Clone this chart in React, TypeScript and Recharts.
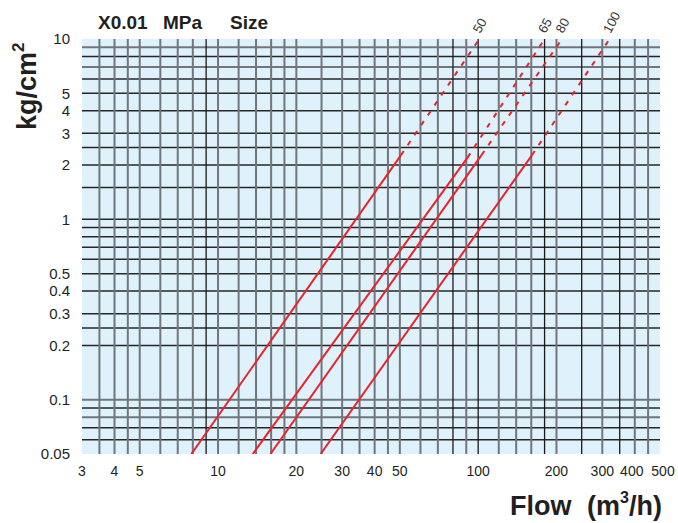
import { LineChart, Line, XAxis, YAxis, ReferenceLine, ReferenceArea, Customized } from 'recharts'

// valve sizes and where each curve crosses the chart
const SIZES = ['50', '65', '80', '100']
const FLOW_AT_MIN = [7.9, 13.6, 15.9, 24.8]
const FLOW_AT_BREAK = [50.5, 91, 103, 161]
const PRESSURE_AT_BREAK = [2.27, 2.2, 2.27, 2.27]
const FLOW_AT_MAX = [101, 180, 210, 320]
const P_MIN = 0.05
const P_MAX = 10

const X_TICKS = [3, 4, 5, 10, 20, 30, 40, 50, 100, 200, 300, 400, 500]
const Y_TICKS = [0.05, 0.1, 0.2, 0.3, 0.4, 0.5, 1, 2, 3, 4, 5, 10]

const X_GRID = [3.5, 4, 4.5, 5, 6, 7, 8, 10, 12, 14, 16, 18, 20, 25, 30, 35, 40, 45, 50, 60, 70, 90, 120, 140, 160, 200, 300, 400, 450]
const X_GRID_DARK = [9, 80, 100, 180, 250, 350]
const Y_GRID = [0.06, 0.07, 0.09, 0.2, 0.25, 0.3, 0.4, 0.5, 0.6, 0.7, 0.8, 0.9, 1, 1.5, 2, 2.5, 3, 4, 5, 6, 8]
const Y_GRID_GREY = [0.08, 0.1, 7, 9]

const FONT = '"Liberation Sans", Arial, Helvetica, sans-serif'
const RED = '#e8242b'

function XTick(props: any) {
  const { x, y, payload, index } = props
  // nudge the outer labels apart a little, as in the printed chart
  const last = index === X_TICKS.length - 1
  const beforeLast = index === X_TICKS.length - 2
  const dx = last ? 3 : beforeLast ? -3 : 0
  return (
    <text
      x={x + dx}
      y={y}
      dy="0.71em"
      textAnchor="middle"
      fontSize={14}
      fontFamily={FONT}
      fill="#231f20"
    >
      {payload.value}
    </text>
  )
}

function sizeLabel(size: string) {
  return (props: any) => {
    if (props.index !== 1) return null
    const x = props.x + 1
    const y = props.y - 5
    return (
      <text
        x={x}
        y={y}
        transform={`rotate(-62 ${x} ${y})`}
        fontSize={13}
        fontFamily={FONT}
        fill="#333"
      >
        {size}
      </text>
    )
  }
}

function Titles() {
  return (
    <g fontFamily={FONT} fill="#231f20" fontWeight="bold">
      <text x={98} y={29} fontSize={19}>X0.01</text>
      <text x={163} y={29} fontSize={19}>MPa</text>
      <text x={230} y={29} fontSize={19}>Size</text>
      <text x={36} y={130} fontSize={27} transform="rotate(-90 36 130)">
        kg/cm<tspan dy={-12} fontSize={17}>2</tspan>
      </text>
      <text x={510} y={515} fontSize={27}>
        Flow
        <tspan x={587}>(m</tspan>
        <tspan dy={-12} fontSize={16}>3</tspan>
        <tspan dy={12}>/h)</tspan>
      </text>
    </g>
  )
}

export default function App() {
  return (
    <div style={{ position: 'absolute', left: 0, top: 0 }}>
      <LineChart
        width={678}
        height={523}
        margin={{ top: 39, right: 18, bottom: 39, left: 0 }}
      >
        <XAxis
          dataKey="flow"
          type="number"
          scale="log"
          domain={[3, 500]}
          ticks={X_TICKS}
          interval={0}
          allowDataOverflow
          axisLine={false}
          tickLine={false}
          tickSize={0}
          tickMargin={12}
          height={30}
          tick={<XTick />}
        />
        <YAxis
          dataKey="p"
          type="number"
          scale="log"
          domain={[P_MIN, P_MAX]}
          ticks={Y_TICKS}
          interval={0}
          allowDataOverflow
          axisLine={false}
          tickLine={false}
          tickSize={0}
          tickMargin={12}
          width={82}
          tick={{ fontSize: 15, fill: '#231f20', fontFamily: FONT }}
        />
        <ReferenceArea x1={3} x2={500} y1={P_MIN} y2={P_MAX} fill="#dff1fb" fillOpacity={1} stroke="none" />
        {Y_GRID.map((v) => (
          <ReferenceLine key={`y${v}`} y={v} stroke="#262626" strokeWidth={1.5} />
        ))}
        {Y_GRID_GREY.map((v) => (
          <ReferenceLine key={`yg${v}`} y={v} stroke="#6f767d" strokeWidth={2} />
        ))}
        {X_GRID.map((v) => (
          <ReferenceLine key={`x${v}`} x={v} stroke="#6f767d" strokeWidth={2} />
        ))}
        {X_GRID_DARK.map((v) => (
          <ReferenceLine key={`xd${v}`} x={v} stroke="#1a1a1a" strokeWidth={1.3} />
        ))}
        {SIZES.map((size, i) => (
          <Line
            key={`s${size}`}
            data={[
              { flow: FLOW_AT_MIN[i], p: P_MIN },
              { flow: FLOW_AT_BREAK[i], p: PRESSURE_AT_BREAK[i] },
            ]}
            dataKey="p"
            stroke={RED}
            strokeWidth={2}
            dot={false}
            isAnimationActive={false}
          />
        ))}
        {SIZES.map((size, i) => (
          <Line
            key={`d${size}`}
            data={[
              { flow: FLOW_AT_BREAK[i], p: PRESSURE_AT_BREAK[i] },
              { flow: FLOW_AT_MAX[i], p: P_MAX },
            ]}
            dataKey="p"
            stroke={RED}
            strokeWidth={2}
            strokeDasharray="5 7"
            dot={false}
            label={sizeLabel(size)}
            isAnimationActive={false}
          />
        ))}
        <Customized component={Titles} />
      </LineChart>
    </div>
  )
}
